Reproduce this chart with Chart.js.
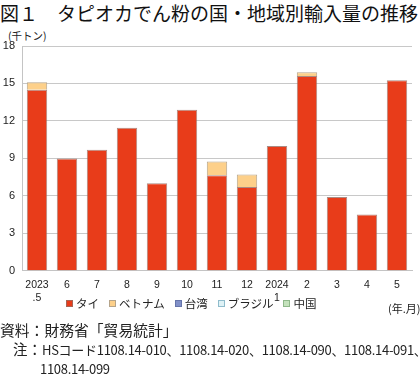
<!DOCTYPE html>
<html>
<head>
<meta charset="utf-8">
<script src="https://cdn.jsdelivr.net/npm/chart.js@4.4.1/dist/chart.umd.min.js"></script>
<style>
  body { margin: 0; background: #fff; font-family: "Noto Sans CJK JP", "Liberation Sans", sans-serif; color: #222; }
  #wrap { position: relative; width: 420px; height: 375px; overflow: hidden; }
  #title { position: absolute; left: 0; top: 0; font-size: 19px; line-height: 26px; white-space: nowrap; color: #111; }
  #unit { position: absolute; left: 8px; top: 28px; font-size: 10.5px; white-space: nowrap; }
  #chartBox { position: absolute; left: 0; top: 0; }
  #legend { position: absolute; left: 66px; top: 295px; font-size: 11.5px; white-space: nowrap; display: flex; }
  #legend span.item { display: inline-flex; align-items: center; margin-right: 10px; }
  #legend span.box { display: inline-block; width: 5px; height: 5px; margin-right: 3px; border: 1px solid #999; }
  #ym { position: absolute; left: 388px; top: 300px; font-size: 11px; white-space: nowrap; }
  #src { position: absolute; left: 0; top: 319px; font-size: 14.8px; white-space: nowrap; }
  #note { position: absolute; left: 13px; top: 340px; font-size: 14.5px; line-height: 18px; white-space: nowrap; }
  #note .lat { font-size: 13px; letter-spacing: -0.3px; }
</style>
</head>
<body>
<div id="wrap">
  <div id="title">図１　タピオカでん粉の国・地域別輸入量の推移</div>
  <div id="unit">(千トン)</div>
  <canvas id="chartBox" width="420" height="313"></canvas>
  <div id="legend"></div>
  <div id="ym">(年.月)</div>
  <div id="src">資料：財務省「貿易統計」</div>
  <div id="note">注：<span class="lat">HSコード1108.14-010、1108.14-020、1108.14-090、1108.14-091、</span><br><span class="lat" style="padding-left:27px">1108.14-099</span></div>
</div>
<script>
// 月ラベル (年.月)
var months = [['2023', '.5'], '6', '7', '8', '9', '10', '11', '12', ['2024', '1'], '2', '3', '4', '5'];
// 国・地域別輸入量 (千トン)
var thai    = [14.5, 9.0, 9.7, 11.45, 7.0, 12.9, 7.65, 6.7, 10.0, 15.6, 5.9, 4.5, 15.25];
var vietnam = [0.6, 0, 0, 0, 0, 0, 1.1, 1.0, 0, 0.3, 0, 0, 0];
var taiwan  = [0, 0, 0, 0, 0, 0, 0, 0, 0, 0, 0, 0, 0];
var brazil  = [0, 0, 0, 0, 0, 0, 0, 0, 0, 0, 0, 0, 0];
var china   = [0, 0, 0, 0, 0, 0, 0, 0, 0, 0, 0, 0, 0];
var yTicks  = [0, 3, 6, 9, 12, 15, 18];

function series(label, data, color, border) {
    return {
        label: label,
        // 0 のところは枠線を描かない
        data: data.map(function (v) { return v > 0 ? v : null; }),
        backgroundColor: color,
        borderColor: border,
        borderWidth: 1,
        barPercentage: 0.68,
        categoryPercentage: 1.0
    };
}

var ctx = document.getElementById('chartBox').getContext('2d');
var chart = new Chart(ctx, {
    type: 'bar',
    data: {
        labels: months,
        datasets: [
            series('タイ', thai, '#e83c1a', 'rgba(150,110,100,0.8)'),
            series('ベトナム', vietnam, '#fdd08a', '#b5a48a'),
            series('台湾', taiwan, '#8190c8', '#6675aa'),
            series('ブラジル', brazil, '#dff2f6', '#8fbccc'),
            series('中国', china, '#c4e2bc', '#8fb88a')
        ]
    },
    options: {
        responsive: false,
        animation: false,
        layout: { padding: { top: 46, right: 8, left: 0, bottom: 0 } },
        plugins: {
            legend: { display: false },
            tooltip: { enabled: false }
        },
        scales: {
            x: {
                stacked: true,
                grid: { display: false, drawTicks: false },
                border: { color: '#c4c4c4' },
                ticks: {
                    padding: 8,
                    color: '#222',
                    maxRotation: 0,
                    font: { family: 'Liberation Sans', size: 10.5, lineHeight: 1.25 }
                }
            },
            y: {
                stacked: true,
                min: 0,
                max: 18,
                afterFit: function (scale) { scale.width = 22; },
                afterBuildTicks: function (scale) {
                    scale.ticks = yTicks.map(function (v) { return { value: v }; });
                },
                grid: { color: '#c8c8c8', drawTicks: false },
                border: { color: '#c4c4c4' },
                ticks: {
                    padding: 7,
                    color: '#222',
                    font: { family: 'Liberation Sans', size: 11 }
                }
            }
        }
    }
});

// 凡例
var legend = document.getElementById('legend');
chart.data.datasets.forEach(function (ds) {
    var item = document.createElement('span');
    item.className = 'item';
    var box = document.createElement('span');
    box.className = 'box';
    box.style.background = ds.backgroundColor;
    box.style.borderColor = ds.borderColor;
    item.appendChild(box);
    item.appendChild(document.createTextNode(ds.label));
    legend.appendChild(item);
});
</script>
</body>
</html>
